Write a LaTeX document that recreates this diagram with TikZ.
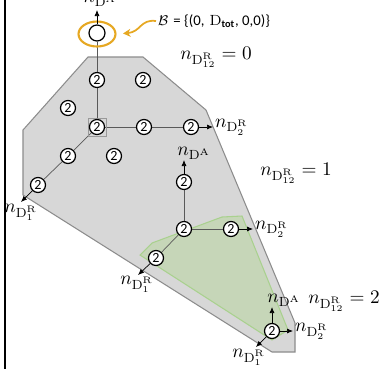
\documentclass[tikz,border=0pt]{standalone}
\usepackage{amsmath,amssymb}
\usepackage{fontspec}
\setsansfont{Carlito}
\usetikzlibrary{arrows.meta,shapes.geometric,backgrounds}
\definecolor{regfill}{RGB}{215,215,215}
\definecolor{regedge}{RGB}{140,140,140}
\definecolor{subfill}{RGB}{198,214,184}
\definecolor{subedge}{RGB}{169,209,142}
\definecolor{bsorange}{RGB}{230,168,35}

\begin{document}
\begin{tikzpicture}[
      x=0.02cm,y=-0.02cm,
      tw/.style={circle,draw,line width=0.7pt,fill=white,font=\footnotesize\sffamily,
        minimum size=0.3cm,inner sep=0pt},
      ln/.style={draw=black!65,line width=0.4pt},
      ax/.style={draw=black,line width=0.4pt,-{Latex[length=1.2mm,width=1mm]}},
      lbl/.style={inner sep=1pt,font=\fontsize{10.8}{13}\selectfont}
    ]
    \useasboundingbox (0,0) rectangle (391,373);
    \draw[line width=0.9pt] (5,0) -- (5,369);
    % empty state and its box
    \node[circle,draw,line width=0.7pt,fill=white,minimum size=0.32cm,inner sep=0pt] (org) at (97,33) {};
    \node[ellipse,draw=bsorange,line width=1.2pt,minimum width=0.74cm,minimum height=0.5cm] (bset) at (97,34) {};
    \node[inner sep=1pt,anchor=west,font=\fontsize{8.4}{10}\selectfont] (blbl) at (156,21)
      {$\mathcal{B}$ \textsf{= \{(0,} $\mathrm{D}$\textsubscript{\textsf{\textbf{tot}}}\textsf{, 0,0)\}}};
    \draw[bsorange,line width=1pt,-{Stealth[length=1.5mm,width=1.6mm]},shorten >=1.3mm]
      (blbl.west) .. controls (140,19) and (141,32) .. (bset.east);
    % n_D12 = 0
    \node[tw] (a1) at (97,80) {2}; \node[tw] (a2) at (143,80) {2};
    \node[tw] (b1) at (68,108) {2};
    \node[draw=black!40,line width=0.5pt,minimum size=0.36cm,inner sep=0pt] (c0box) at (97,127) {};
    \node[tw] (c0) at (97,127) {2}; \node[tw] (c1) at (144,127) {2}; \node[tw] (c2) at (191,127) {2};
    \node[tw] (d1) at (68,156) {2}; \node[tw] (d2) at (114,156) {2};
    \node[tw] (e1) at (38,185) {2};
    % n_D12 = 1
    \node[tw] (p0) at (184,229) {2}; \node[tw] (pa) at (184,182) {2};
    \node[tw] (pr) at (231,229) {2}; \node[tw] (pl) at (156,258) {2};
    % n_D12 = 2
    \node[tw] (q0) at (272,331) {2};
    % axis ends
    \coordinate (orgA) at (97,10);
    \coordinate (c2R) at (213,127);
    \coordinate (e1R) at (21,202);
    \coordinate (paA) at (184,160);
    \coordinate (prR) at (253,229);
    \coordinate (plR) at (138,275);
    \coordinate (q0A) at (272,307);
    \coordinate (q0R) at (293,331);
    \coordinate (q0L) at (256,347);
    % regions and links (drawn behind)
    \begin{scope}[on background layer]
      \draw[regedge,fill=regfill,line width=0.6pt] (88,57) -- (143,57) -- (206,110) -- (295,323)
        -- (295,352) -- (272,352) -- (23,195) -- (23,130) -- cycle;
      \draw[subedge,fill=subfill,line width=0.6pt] (140,255) -- (152,243) -- (222,217) -- (242,216)
        -- (288,330) -- (272,340) -- cycle;
      \foreach \a/\b in {org/a1,a1/c0,c0/c1,c1/c2,c0/d1,d1/e1,p0/pa,p0/pr,p0/pl}{\draw[ln] (\a) -- (\b);}
    \end{scope}
    \foreach \a/\b in {org/orgA,c2/c2R,e1/e1R,pa/paA,pr/prR,pl/plR,q0/q0A,q0/q0R,q0/q0L}{\draw[ax] (\a) -- (\b);}
    % axis labels
    \node[lbl] (lorgA) at (100,0) {$n_{\mathrm{D}^{\mathrm{A}}}$};
    \node[lbl,anchor=west] (lc2R) at (c2R) {$n_{\mathrm{D}^{\mathrm{R}}_2}$};
    \node[lbl,anchor=north] (le1R) at (e1R) {$n_{\mathrm{D}^{\mathrm{R}}_1}$};
    \node[lbl] (lpaA) at (194,153) {$n_{\mathrm{D}^{\mathrm{A}}}$};
    \node[lbl,anchor=west] (lprR) at (prR) {$n_{\mathrm{D}^{\mathrm{R}}_2}$};
    \node[lbl] (lplR) at (137,284) {$n_{\mathrm{D}^{\mathrm{R}}_1}$};
    \node[lbl] (lq0A) at (284,300) {$n_{\mathrm{D}^{\mathrm{A}}}$};
    \node[lbl,anchor=west] (lq0R) at (q0R) {$n_{\mathrm{D}^{\mathrm{R}}_2}$};
    \node[lbl] (lq0L) at (249,357) {$n_{\mathrm{D}^{\mathrm{R}}_1}$};
    % layer labels
    \node[lbl] (k0) at (216,57) {$n_{\mathrm{D}^{\mathrm{R}}_{12}} = 0$};
    \node[lbl] (k1) at (296,173) {$n_{\mathrm{D}^{\mathrm{R}}_{12}} = 1$};
    \node[lbl] (k2) at (344,301) {$n_{\mathrm{D}^{\mathrm{R}}_{12}} = 2$};
  \end{tikzpicture}
\end{document}
